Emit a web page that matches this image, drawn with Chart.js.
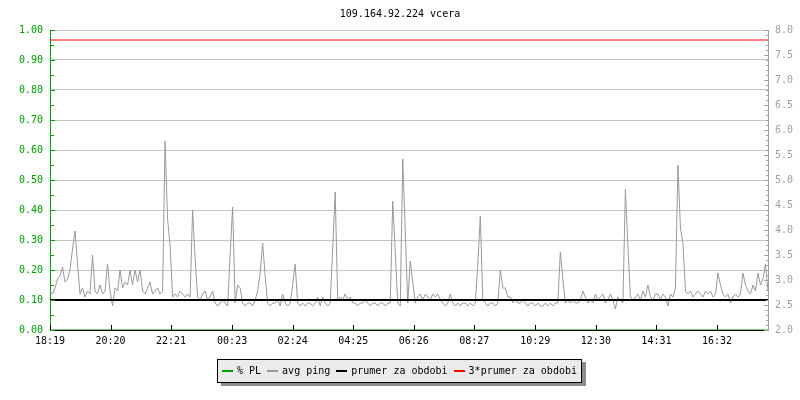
<!DOCTYPE html>
<html>
<head>
<meta charset="utf-8">
<script src="https://cdn.jsdelivr.net/npm/chart.js@4.4.1/dist/chart.umd.min.js"></script>
<style>
  body { margin: 0; background: #fff; }
  #obal { position: relative; width: 800px; height: 400px; }
  #legenda {
    position: absolute; left: 217px; top: 359px; height: 24px;
    box-sizing: border-box; border: 1px solid #000; background: #ebebeb;
    box-shadow: 4px 3px 0 #8c8c8c; padding: 0 4px 0 4px;
    font: 10px "DejaVu Sans Mono", monospace; line-height: 22px; white-space: nowrap; color: #000;
  }
  #legenda span { margin-right: 6px; }
  #legenda span:last-child { margin-right: 0; }
  #legenda i { display: inline-block; width: 11px; height: 2px; margin-right: 4px; vertical-align: middle; }
</style>
</head>
<body>
<div id="obal">
  <canvas id="graf" width="800" height="400"></canvas>
  <div id="legenda"></div>
</div>
<script>
const titulek = '109.164.92.224 vcera';
const popiskyCasu = ['18:19', '20:20', '22:21', '00:23', '02:24', '04:25', '06:26', '08:27', '10:29', '12:30', '14:31', '16:32'];
const krok = 5; // minut mezi vzorky
const konecOsy = 1435;

// avg ping [ms], 5 min vzorky od 18:19
const avgPing = [
  2.78, 2.72, 2.84, 3.02, 3.08, 3.26, 2.96, 3.02, 3.20, 3.62, 3.98, 3.32, 2.72, 2.84, 2.66, 2.78,
  2.72, 3.50, 2.78, 2.72, 2.90, 2.72, 2.78, 3.32, 2.78, 2.48, 2.84, 2.78, 3.20, 2.84, 2.96, 2.90,
  3.20, 2.90, 3.20, 2.96, 3.20, 2.78, 2.72, 2.84, 2.96, 2.72, 2.78, 2.84, 2.72, 2.78, 5.78, 4.22,
  3.68, 2.66, 2.72, 2.66, 2.78, 2.72, 2.66, 2.72, 2.66, 4.40, 3.44, 2.66, 2.60, 2.72, 2.78, 2.60,
  2.66, 2.78, 2.54, 2.48, 2.54, 2.60, 2.54, 2.48, 3.50, 4.46, 2.54, 2.90, 2.84, 2.54, 2.48, 2.54,
  2.54, 2.48, 2.60, 2.78, 3.14, 3.74, 3.08, 2.54, 2.48, 2.54, 2.54, 2.60, 2.48, 2.72, 2.54, 2.48,
  2.54, 2.90, 3.32, 2.54, 2.48, 2.54, 2.48, 2.54, 2.54, 2.48, 2.54, 2.66, 2.48, 2.66, 2.54, 2.48,
  2.54, 3.62, 4.76, 2.60, 2.66, 2.60, 2.72, 2.60, 2.66, 2.54, 2.54, 2.48, 2.54, 2.54, 2.60, 2.54,
  2.48, 2.54, 2.54, 2.48, 2.54, 2.54, 2.48, 2.54, 2.54, 4.58, 3.56, 2.54, 2.48, 5.42, 3.98, 2.54,
  3.38, 2.96, 2.54, 2.66, 2.72, 2.60, 2.72, 2.66, 2.60, 2.72, 2.66, 2.72, 2.60, 2.54, 2.48, 2.54,
  2.72, 2.54, 2.48, 2.54, 2.48, 2.54, 2.54, 2.48, 2.54, 2.48, 2.54, 3.32, 4.28, 2.60, 2.54, 2.48,
  2.54, 2.54, 2.48, 2.54, 3.20, 2.84, 2.84, 2.66, 2.66, 2.54, 2.60, 2.54, 2.54, 2.60, 2.54, 2.48,
  2.54, 2.54, 2.48, 2.54, 2.48, 2.48, 2.54, 2.48, 2.54, 2.48, 2.54, 2.54, 3.56, 3.02, 2.54, 2.60,
  2.54, 2.60, 2.54, 2.54, 2.60, 2.78, 2.66, 2.54, 2.60, 2.54, 2.72, 2.60, 2.66, 2.72, 2.54, 2.60,
  2.72, 2.60, 2.42, 2.66, 2.60, 2.54, 4.82, 3.68, 2.66, 2.60, 2.66, 2.72, 2.60, 2.78, 2.66, 2.90,
  2.66, 2.60, 2.72, 2.72, 2.60, 2.72, 2.66, 2.48, 2.72, 2.66, 2.84, 5.30, 4.04, 3.74, 2.78, 2.72,
  2.78, 2.66, 2.72, 2.78, 2.72, 2.66, 2.78, 2.72, 2.78, 2.66, 2.72, 3.14, 2.90, 2.72, 2.66, 2.72,
  2.54, 2.66, 2.72, 2.66, 2.72, 3.14, 2.90, 2.78, 2.72, 2.90, 2.78, 3.14, 2.90, 3.02, 3.32, 2.78
];
// % PL - packet loss, cely den nula
const ztraty = [0, 0];
const prumer = 2.6;
const trojPrumer = 7.8;

const zelena = '#00a000';
const seda = '#a0a0a0';

function minutyOdStartu(popisek) {
  const [h, m] = popisek.split(':').map(Number);
  return ((h * 60 + m) - (18 * 60 + 19) + 1440) % 1440;
}
const pozice = popiskyCasu.map(minutyOdStartu);

Chart.defaults.font.family = '"DejaVu Sans Mono", monospace';
Chart.defaults.font.size = 10;
Chart.defaults.color = '#000';

const znacky = {
  id: 'znacky',
  afterDraw(chart) {
    const { ctx, chartArea, scales } = chart;
    ctx.save();
    ctx.lineWidth = 1;
    ctx.beginPath();
    ctx.strokeStyle = zelena;
    for (let k = 0; k <= 20; k++) {
      const y = Math.round(scales.yL.getPixelForValue(k * 0.05)) + 0.5;
      ctx.moveTo(chartArea.left, y);
      ctx.lineTo(chartArea.left + (k % 2 === 0 ? 5 : 4), y);
    }
    ctx.stroke();
    ctx.beginPath();
    ctx.strokeStyle = seda;
    for (let k = 0; k <= 60; k++) {
      const y = Math.round(scales.yR.getPixelForValue(2 + k * 0.1)) + 0.5;
      ctx.moveTo(chartArea.right, y);
      ctx.lineTo(chartArea.right - (k % 5 === 0 ? 4 : 2), y);
    }
    ctx.stroke();
    ctx.beginPath();
    ctx.strokeStyle = '#000';
    scales.x.ticks.forEach(t => {
      const x = Math.round(scales.x.getPixelForValue(t.value)) + 0.5;
      ctx.moveTo(x, chartArea.bottom);
      ctx.lineTo(x, chartArea.bottom - 5);
    });
    ctx.stroke();
    ctx.restore();
  }
};

const graf = new Chart(document.getElementById('graf'), {
  type: 'line',
  data: {
    datasets: [
      {
        label: '% PL',
        data: ztraty.map((v, i) => ({ x: i * konecOsy, y: v })),
        borderColor: zelena, borderWidth: 1, yAxisID: 'yL', order: 0
      },
      {
        label: 'avg ping',
        data: avgPing.map((v, i) => ({ x: i * krok, y: v })),
        borderColor: '#999999', borderWidth: 1, yAxisID: 'yR', order: 3
      },
      {
        label: 'prumer za obdobi',
        data: [{ x: 0, y: prumer }, { x: konecOsy, y: prumer }],
        borderColor: '#000', borderWidth: 2, yAxisID: 'yR', order: 1
      },
      {
        label: '3*prumer za obdobi',
        data: [{ x: 0, y: trojPrumer }, { x: konecOsy, y: trojPrumer }],
        borderColor: '#ff0000', borderWidth: 1, yAxisID: 'yR', order: 2
      }
    ]
  },
  options: {
    responsive: false,
    animation: false,
    devicePixelRatio: 1,
    elements: { point: { radius: 0 }, line: { tension: 0 } },
    layout: { padding: 0 },
    plugins: {
      legend: { display: false },
      tooltip: { enabled: false },
      title: {
        display: true,
        text: titulek,
        color: '#000',
        font: { size: 10, weight: 'normal' },
        padding: { top: 8, bottom: 10 }
      }
    },
    scales: {
      x: {
        type: 'linear',
        min: 0,
        max: konecOsy,
        z: 1,
        afterBuildTicks: (s) => { s.ticks = pozice.map(v => ({ value: v })); },
        afterFit: (s) => { s.height = 70; },
        ticks: {
          autoSkip: false,
          maxRotation: 0,
          padding: 5,
          color: '#000',
          callback: (v) => popiskyCasu[pozice.indexOf(v)]
        },
        grid: { display: false, drawTicks: false },
        border: { color: '#000', width: 1 }
      },
      yL: {
        position: 'left',
        min: 0,
        max: 1,
        afterFit: (s) => { s.width = 50; },
        ticks: {
          stepSize: 0.1,
          padding: 7,
          color: zelena,
          callback: (v) => Number(v).toFixed(2)
        },
        grid: { color: '#c4c4c4', lineWidth: 1, drawTicks: false },
        border: { color: zelena, width: 1 }
      },
      yR: {
        position: 'right',
        min: 2,
        max: 8,
        afterFit: (s) => { s.width = 32; },
        ticks: {
          stepSize: 0.5,
          padding: 7,
          color: seda,
          callback: (v) => Number(v).toFixed(1)
        },
        grid: { display: false, drawTicks: false },
        border: { color: seda, width: 1 }
      }
    }
  },
  plugins: [znacky]
});

// legenda pod grafem
const legenda = document.getElementById('legenda');
graf.data.datasets.forEach(ds => {
  const polozka = document.createElement('span');
  const cara = document.createElement('i');
  cara.style.background = ds.borderColor;
  polozka.appendChild(cara);
  polozka.appendChild(document.createTextNode(ds.label));
  legenda.appendChild(polozka);
});
</script>
</body>
</html>
